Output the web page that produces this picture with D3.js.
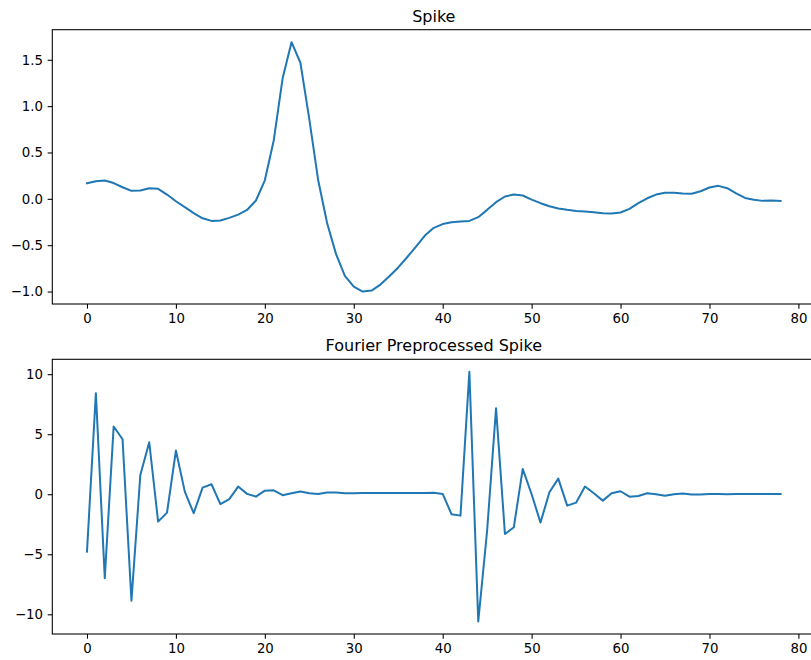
<!DOCTYPE html>
<html>
<head>
<meta charset="utf-8">
<script src="https://cdn.jsdelivr.net/npm/d3@7"></script>
<style>
  html, body { margin: 0; padding: 0; background: #fff; overflow: hidden; }
  svg { display: block; font-family: "DejaVu Sans", sans-serif; }
</style>
</head>
<body>
<svg id="chart" width="811" height="660"></svg>
<script>
// Raw spike waveform, one value per sample
const spike = [
  0.168, 0.19, 0.198, 0.17, 0.125, 0.086, 0.09, 0.115, 0.108, 0.046,
  -0.026, -0.09, -0.155, -0.21, -0.238, -0.234, -0.205, -0.17, -0.12, -0.018,
  0.2, 0.63, 1.3, 1.69, 1.468, 0.86, 0.2, -0.26, -0.594, -0.83,
  -0.947, -1.0, -0.99, -0.925, -0.835, -0.74, -0.63, -0.515, -0.396, -0.313,
  -0.272, -0.252, -0.245, -0.238, -0.198, -0.119, -0.036, 0.025, 0.046, 0.036,
  -0.008, -0.047, -0.08, -0.105, -0.119, -0.13, -0.137, -0.145, -0.155, -0.159,
  -0.147, -0.108, -0.047, 0.006, 0.046, 0.065, 0.065, 0.057, 0.054, 0.082,
  0.122, 0.14, 0.115, 0.06, 0.01, -0.011, -0.022, -0.018, -0.022
];

// Fourier-preprocessed version of the same spike
const fourier = [
  -4.78, 8.42, -7.0, 5.64, 4.58, -8.87, 1.61, 4.33, -2.28, -1.53,
  3.64, 0.22, -1.58, 0.55, 0.83, -0.82, -0.4, 0.64, 0.03, -0.2,
  0.3, 0.33, -0.08, 0.08, 0.22, 0.08, 0.03, 0.14, 0.14, 0.08,
  0.09, 0.1, 0.11, 0.1, 0.1, 0.11, 0.1, 0.1, 0.11, 0.12,
  0.03, -1.67, -1.78, 10.2, -10.6, -3.0, 7.17, -3.31, -2.75, 2.11,
  0.0, -2.36, 0.17, 1.3, -0.95, -0.7, 0.64, 0.08, -0.53, 0.08,
  0.25, -0.2, -0.14, 0.08, 0.0, -0.12, 0.0, 0.06, -0.03, -0.03,
  0.02, 0.02, 0.01, 0.03, 0.02, 0.03, 0.02, 0.03, 0.03
];

const xTicks = [0, 10, 20, 30, 40, 50, 60, 70, 80];
const spikeTicks = [-1.0, -0.5, 0.0, 0.5, 1.0, 1.5];
const fourierTicks = [-10, -5, 0, 5, 10];

const panels = [
  { title: "Spike", values: spike, yTicks: spikeTicks, fmt: d3.format(".1f"), top: 29.7, bottom: 304 },
  { title: "Fourier Preprocessed Spike", values: fourier, yTicks: fourierTicks, fmt: d3.format("d"), top: 359.3, bottom: 634 }
];

const svg = d3.select("#chart");
const left = 52.3, right = 815.3;
const tickLen = 4.67, tickPad = 4.67;
const lineColor = "#1f77b4";

// pad a data extent by 5% on each side
function padded(ext) {
  const m = (ext[1] - ext[0]) * 0.05;
  return [ext[0] - m, ext[1] + m];
}

panels.forEach(p => {
  const n = p.values.length;
  const x = d3.scaleLinear().domain(padded([0, n - 1])).range([left, right]);
  const y = d3.scaleLinear().domain(padded(d3.extent(p.values))).range([p.bottom, p.top]);

  const g = svg.append("g");

  // series line
  g.append("path")
    .datum(p.values)
    .attr("fill", "none")
    .attr("stroke", lineColor)
    .attr("stroke-width", 2)
    .attr("stroke-linejoin", "round")
    .attr("stroke-linecap", "square")
    .attr("d", d3.line().x((d, i) => x(i)).y(d => y(d)));

  // x axis
  const xa = g.append("g")
    .attr("transform", `translate(0,${p.bottom})`)
    .call(d3.axisBottom(x).tickValues(xTicks).tickFormat(d3.format("d"))
      .tickSize(tickLen).tickPadding(tickPad).tickSizeOuter(0));
  // y axis
  const ya = g.append("g")
    .attr("transform", `translate(${left},0)`)
    .call(d3.axisLeft(y).tickValues(p.yTicks).tickFormat(p.fmt)
      .tickSize(tickLen).tickPadding(tickPad).tickSizeOuter(0));

  [xa, ya].forEach(a => {
    a.select(".domain").remove();
    a.selectAll(".tick line").attr("stroke", "#000").attr("stroke-width", 1.07);
    a.selectAll(".tick text")
      .attr("fill", "#000")
      .style("font-family", "'DejaVu Sans', sans-serif")
      .style("font-size", "13.3px");
  });
  xa.selectAll(".tick text").attr("dy", "0.76em");

  // frame
  g.append("rect")
    .attr("x", left).attr("y", p.top)
    .attr("width", right - left).attr("height", p.bottom - p.top)
    .attr("fill", "none")
    .attr("stroke", "#000")
    .attr("stroke-width", 1.07);

  // title
  g.append("text")
    .attr("x", (left + right) / 2)
    .attr("y", p.top - 8)
    .attr("text-anchor", "middle")
    .style("font-size", "16px")
    .attr("fill", "#000")
    .text(p.title);
});
</script>
</body>
</html>
